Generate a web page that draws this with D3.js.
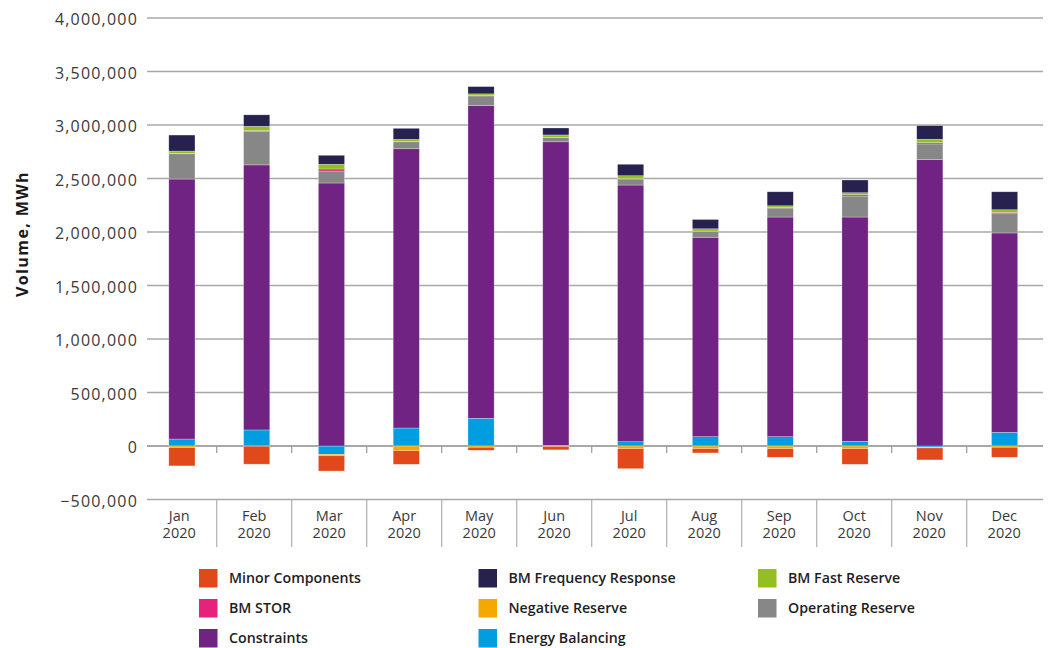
<!DOCTYPE html>
<html>
<head>
<meta charset="utf-8">
<script src="https://cdn.jsdelivr.net/npm/d3@7"></script>
<style>
  html, body { margin: 0; padding: 0; background: #fff; }
  svg { display: block; }
  text { font-family: "Open Sans", "DejaVu Sans", sans-serif; }
</style>
</head>
<body>
<svg id="chart" width="1050" height="648"></svg>
<script>
// ---- Data ----
const months = ["Jan","Feb","Mar","Apr","May","Jun","Jul","Aug","Sep","Oct","Nov","Dec"];
const yearLabel = "2020";
const yTicks = [-500000, 0, 500000, 1000000, 1500000, 2000000, 2500000, 3000000, 3500000, 4000000];

const energyBalancing     = [65000, 150000, -78000, 168000, 259000, 5000, 40000, 87000, 87000, 44000, -12000, 128000];
const constraints         = [2430000, 2477000, 2458000, 2610000, 2922000, 2838000, 2399000, 1864000, 2053000, 2096000, 2676000, 1863000];
const operatingReserve    = [236000, 313000, 112000, 65000, 91000, 40000, 56000, 52000, 84000, 196000, 147000, 180000];
const bmStor              = [3000, 8000, 19000, 3000, 2000, 2000, 3000, 5000, 6000, 12000, 12000, 13000];
const bmFastReserve       = [22000, 40000, 44000, 20000, 17000, 22000, 28000, 22000, 15000, 19000, 32000, 24000];
const bmFrequencyResponse = [150000, 107000, 84000, 103000, 68000, 65000, 107000, 87000, 131000, 119000, 127000, 168000];
const negativeReserve     = [-15000, -2000, -13000, -44000, -12000, -5000, -25000, -25000, -25000, -25000, -6000, -12000];
const minorComponents     = [-171000, -168000, -143000, -127000, -28000, -31000, -187000, -40000, -80000, -146000, -112000, -93000];

const seriesNames = ["Energy Balancing","Constraints","Operating Reserve","BM STOR","BM Fast Reserve","BM Frequency Response","Negative Reserve","Minor Components"];
const seriesValues = [energyBalancing, constraints, operatingReserve, bmStor, bmFastReserve, bmFrequencyResponse, negativeReserve, minorComponents];
const seriesColors = ["#009ee0","#712383","#878787","#e6237a","#93c01f","#27214f","#f5a800","#e2491a"];

const legendOrder = [
  ["Minor Components","BM Frequency Response","BM Fast Reserve"],
  ["BM STOR","Negative Reserve","Operating Reserve"],
  ["Constraints","Energy Balancing"]
];
const yTitle = "Volume, MWh";

// ---- Build table ----
const table = months.map((m, i) => {
  const row = { month: m };
  seriesNames.forEach((s, k) => row[s] = seriesValues[k][i]);
  return row;
});
const colorOf = d3.scaleOrdinal().domain(seriesNames).range(seriesColors);

const svg = d3.select("#chart");

const y = d3.scaleLinear().domain([-500000, 4000000]).range([499.5, 18]);
const x = d3.scaleBand().domain(months).range([141.7, 1041.7]).padding(0);
const xb = d3.scaleBand().domain(months).range([144.5, 1042]).paddingInner(0.65).paddingOuter(0.325);

// Gridlines
const grid = svg.append("g");
grid.selectAll("line").data(yTicks).join("line")
  .attr("x1", 147).attr("x2", 1043)
  .attr("y1", d => y(d)).attr("y2", d => y(d))
  .attr("stroke", d => d === 0 ? "#8a8a8a" : "#a8a8a8")
  .attr("stroke-width", 1.3);

// Y axis labels
const yAxis = d3.axisLeft(y).tickValues(yTicks).tickFormat(d3.format(",")).tickSize(0).tickPadding(0);
const yg = svg.append("g").attr("transform", "translate(138,0)").call(yAxis);
yg.select(".domain").remove();
yg.selectAll("text")
  .attr("fill", "#3a3a3a")
  .style("font-size", "16px")
  .style("letter-spacing", "1.2px")
  .style("font-family", "'Open Sans', sans-serif")
  .attr("dy", "0.42em");

// Y title
svg.append("text")
  .attr("transform", "translate(28,234) rotate(-90)")
  .attr("text-anchor", "middle")
  .attr("fill", "#1a1a1a")
  .style("font-size", "16px")
  .style("font-weight", "700")
  .style("letter-spacing", "1.4px")
  .text(yTitle);

// Category separators
const seps = months.slice(1);
svg.append("g").selectAll("line").data(seps).join("line")
  .attr("x1", d => x(d)).attr("x2", d => x(d))
  .attr("y1", 499.5).attr("y2", 547)
  .attr("stroke", "#b5b5b5").attr("stroke-width", 1.3);
svg.append("g").selectAll("line").data(seps).join("line")
  .attr("x1", d => x(d)).attr("x2", d => x(d))
  .attr("y1", 446).attr("y2", 453)
  .attr("stroke", "#a0a0a0").attr("stroke-width", 1.3);

// Category labels (two separate lines)
const xl = svg.append("g").attr("fill", "#3a3a3a").style("font-size", "14.5px").attr("text-anchor", "middle");
xl.selectAll("text.m").data(months).join("text").attr("class", "m")
  .attr("x", d => x(d) + x.bandwidth() / 2).attr("y", 521).text(d => d);
xl.selectAll("text.yr").data(months).join("text").attr("class", "yr")
  .attr("x", d => x(d) + x.bandwidth() / 2).attr("y", 538).text(yearLabel);

// Stacked bars
const stack = d3.stack().keys(seriesNames).offset(d3.stackOffsetDiverging);
const stacked = stack(table);
const bars = svg.append("g");
stacked.forEach(layer => {
  bars.append("g").attr("fill", colorOf(layer.key))
    .selectAll("rect").data(layer).join("rect")
    .attr("x", d => xb(d.data.month))
    .attr("width", xb.bandwidth())
    .attr("y", d => y(Math.max(d[0], d[1])))
    .attr("height", d => Math.abs(y(d[0]) - y(d[1])))
    .attr("stroke", "#ffffff").attr("stroke-opacity", 0.45).attr("stroke-width", 0.6);
});

// Legend
const colX = [199, 478.5, 758];
const rowY = [569, 599, 629];
const lg = svg.append("g");
legendOrder.forEach((row, r) => {
  row.forEach((name, c) => {
    lg.append("rect")
      .attr("x", colX[c]).attr("y", rowY[r])
      .attr("width", 18.5).attr("height", 18.5)
      .attr("fill", colorOf(name));
    lg.append("text")
      .attr("x", colX[c] + 30).attr("y", rowY[r] + 14.3)
      .attr("fill", "#1e1e1e")
      .style("font-size", "14.2px")
      .style("font-weight", "600")
      .text(name);
  });
});
</script>
</body>
</html>
